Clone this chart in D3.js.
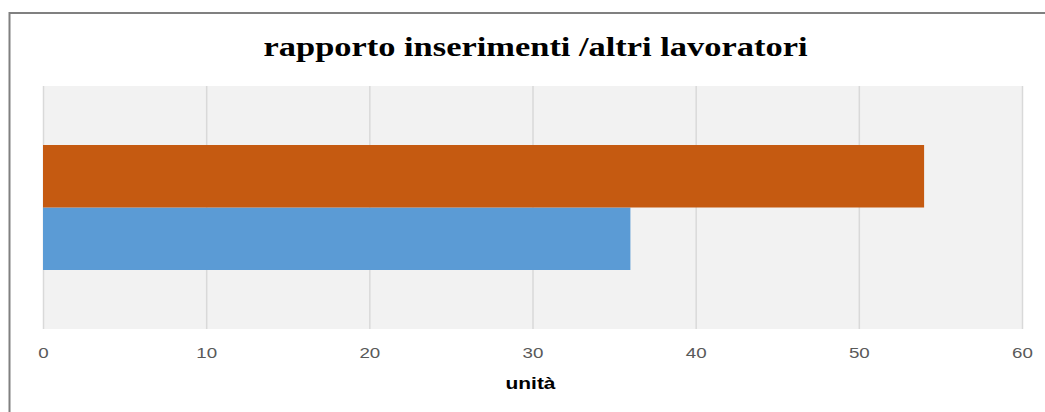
<!DOCTYPE html>
<html>
<head>
<meta charset="utf-8">
<script src="https://cdn.jsdelivr.net/npm/d3@7"></script>
<style>
  body { margin: 0; background: #fff; }
</style>
</head>
<body>
<div id="chart-area"></div>
<script>

var categories = ["rapporto"];
var seriesNames = ["inserimenti", "altri lavoratori"];
var seriesValues = [36, 54];
var seriesColors = ["#5b9bd5", "#c55a11"];
var xTicks = [0, 10, 20, 30, 40, 50, 60];

var width = 1045, height = 412;
var plot = { left: 43, right: 1022, top: 86, bottom: 329 };

var svg = d3.select("#chart-area")
  .append("svg")
    .attr("width", width)
    .attr("height", height);

// chart border (only top and left visible in the picture)
svg.append("rect")
  .attr("x", 9.5)
  .attr("y", 13)
  .attr("width", 1100)
  .attr("height", 500)
  .attr("fill", "#fff")
  .attr("stroke", "#808080")
  .attr("stroke-width", 2);

// title
svg.append("text")
  .attr("x", 535.5)
  .attr("y", 55.5)
  .attr("text-anchor", "middle")
  .attr("font-family", "'Liberation Serif', 'Times New Roman', serif")
  .attr("font-weight", "bold")
  .attr("font-size", 27)
  .attr("textLength", 544)
  .attr("lengthAdjust", "spacingAndGlyphs")
  .attr("fill", "#000")
  .text("rapporto  inserimenti /altri lavoratori");

var x = d3.scaleLinear()
  .domain([0, 60])
  .range([plot.left, plot.right]);

var y0 = d3.scaleBand()
  .domain(categories)
  .range([plot.top, plot.bottom]);

// first series sits at the bottom, like Excel
var y1 = d3.scaleBand()
  .domain(seriesNames)
  .range([y0.bandwidth(), 0])
  .paddingInner(0)
  .paddingOuter(0.944);

// plot background
svg.append("rect")
  .attr("x", plot.left)
  .attr("y", plot.top)
  .attr("width", plot.right - plot.left)
  .attr("height", plot.bottom - plot.top)
  .attr("fill", "#f2f2f2");

// gridlines + tick labels
var xAxis = d3.axisBottom(x)
  .tickValues(xTicks)
  .tickSize(-(plot.bottom - plot.top))
  .tickFormat(d3.format("d"))
  .tickPadding(0);

var gx = svg.append("g")
  .attr("transform", "translate(0," + plot.bottom + ")")
  .call(xAxis);

gx.select(".domain").remove();
gx.selectAll(".tick line")
  .attr("stroke", "#d9d9d9")
  .attr("stroke-width", 1.5);
gx.selectAll(".tick text")
  .attr("y", 29)
  .attr("dy", 0)
  .attr("transform", "scale(1.25,1)")
  .attr("font-family", "'Liberation Sans', Arial, sans-serif")
  .attr("font-size", 15)
  .attr("fill", "#595959");

// bars
var groups = svg.selectAll(".cat")
  .data(categories)
  .enter()
  .append("g")
    .attr("class", "cat")
    .attr("transform", function(d) { return "translate(0," + y0(d) + ")"; });

groups.selectAll("rect")
  .data(function() {
    return seriesNames.map(function(name, i) {
      return { name: name, value: seriesValues[i], color: seriesColors[i] };
    });
  })
  .enter()
  .append("rect")
    .attr("x", x(0))
    .attr("y", function(d) { return y1(d.name); })
    .attr("width", function(d) { return x(d.value) - x(0); })
    .attr("height", y1.bandwidth())
    .attr("fill", function(d) { return d.color; });

// axis title
svg.append("text")
  .attr("x", 530.5)
  .attr("y", 388.5)
  .attr("text-anchor", "middle")
  .attr("font-family", "'Liberation Sans', Arial, sans-serif")
  .attr("font-weight", "bold")
  .attr("font-size", 16)
  .attr("textLength", 50)
  .attr("lengthAdjust", "spacingAndGlyphs")
  .attr("fill", "#000")
  .text("unità");

</script>
</body>
</html>
